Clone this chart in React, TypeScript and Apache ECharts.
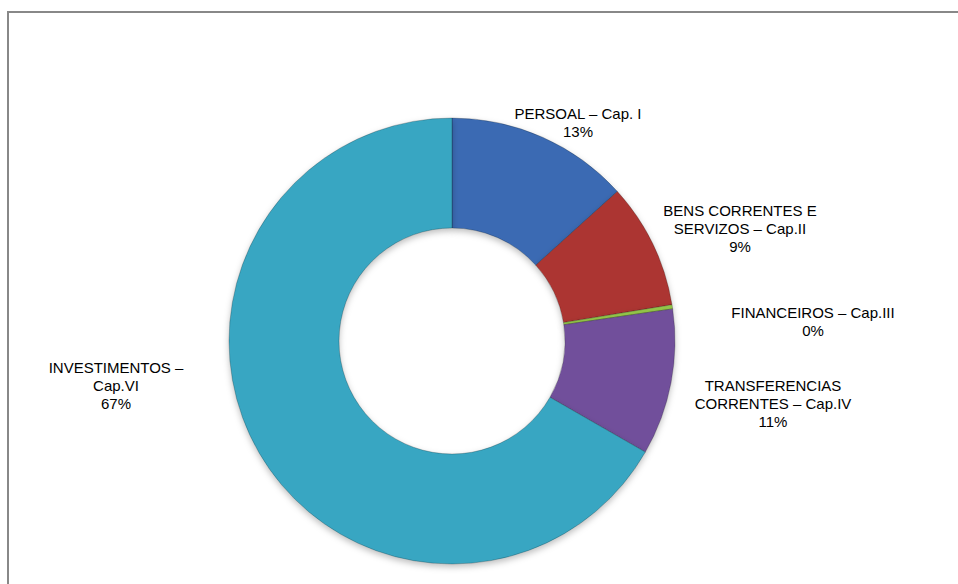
import React, { useEffect, useRef } from "react";
import * as echarts from "echarts";

const categories = [
  "PERSOAL – Cap. I",
  "BENS CORRENTES E\nSERVIZOS – Cap.II",
  "FINANCEIROS – Cap.III",
  "TRANSFERENCIAS\nCORRENTES – Cap.IV",
  "INVESTIMENTOS –\nCap.VI",
];
const values = [13.3, 9.1, 0.3, 10.6, 66.7];
const colors = ["#3A6BB3", "#AC3531", "#94C64A", "#71509B", "#38A6C2"];
// label anchor positions (center of text block)
const labelPos = [
  [578, 122],
  [740, 228],
  [813, 321],
  [773, 403],
  [116, 385],
];

export default function App() {
  const ref = useRef<HTMLDivElement>(null);
  useEffect(() => {
    if (!ref.current) return;
    const chart = echarts.init(ref.current, null, { renderer: "svg" });
    const total = values.reduce((a, b) => a + b, 0);
    chart.setOption({
      animation: false,
      backgroundColor: "#ffffff",
      graphic: [
        {
          type: "rect",
          shape: { x: 8, y: 12, width: 1000, height: 1000 },
          style: { fill: "none", stroke: "#888888", lineWidth: 2 },
          z: -1,
        },
      ],
      series: [
        {
          type: "pie",
          center: [452, 341],
          radius: [113, 223],
          startAngle: 90,
          clockwise: true,
          avoidLabelOverlap: false,
          data: categories.map((c, i) => ({
            name: c,
            value: values[i],
            itemStyle: { color: colors[i] },
          })),
          itemStyle: {
            borderColor: "rgba(0,0,0,0.28)",
            borderWidth: 0.8,
            shadowColor: "rgba(0,0,0,0.25)",
            shadowBlur: 6,
            shadowOffsetY: 3,
          },
          label: {
            show: true,
            position: "outside",
            formatter: (p: any) =>
              p.name + "\n" + Math.round((p.value / total) * 100) + "%",
            fontFamily: "Liberation Sans, Arial, sans-serif",
            fontSize: 15,
            lineHeight: 18,
            color: "#000000",
            align: "center",
          },
          labelLine: { show: false },
          labelLayout: (params: any) => {
            const pos = labelPos[params.dataIndex];
            return {
              x: pos[0],
              y: pos[1],
              align: "center",
              verticalAlign: "middle",
            };
          },
          emphasis: { disabled: true },
        },
      ],
    });
    return () => chart.dispose();
  }, []);
  return (
    <div
      ref={ref}
      style={{ position: "absolute", left: 0, top: 0, width: 958, height: 584 }}
    />
  );
}
